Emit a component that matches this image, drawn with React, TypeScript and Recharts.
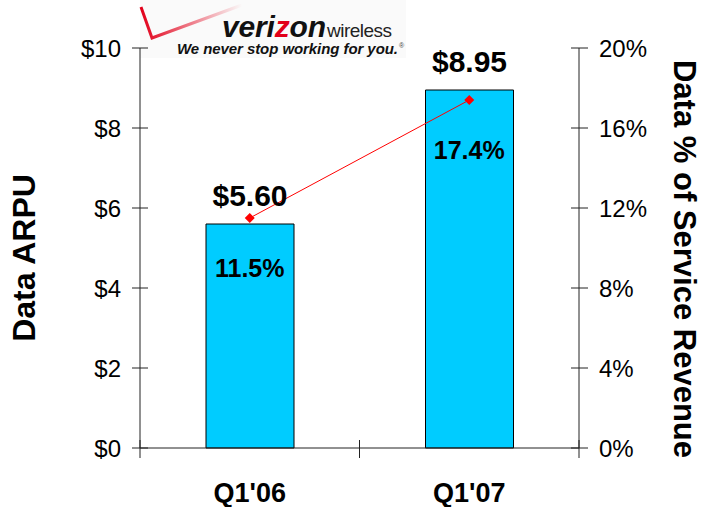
import { ComposedChart, Bar, Line, XAxis, YAxis, LabelList } from 'recharts';

const quarters = ["Q1'06", "Q1'07"];
const arpu = [5.6, 8.95];
const dataShare = [11.5, 17.4];
const arpuTicks = [0, 2, 4, 6, 8, 10];
const shareTicks = [0, 4, 8, 12, 16, 20];

const data = quarters.map((quarter, i) => ({ quarter, arpu: arpu[i], share: dataShare[i] }));

const FONT = '"Liberation Sans", Arial, Helvetica, sans-serif';
const AXIS = '#222';

const LeftTick = ({ x, y, payload }: any) => (
    <g>
        <line x1={x - 8} x2={x + 8} y1={y} y2={y} stroke={AXIS} />
        <text x={x - 19} y={y} dy="0.36em" textAnchor="end" fontSize={24} fontFamily={FONT} fill="#000">
            ${payload.value}
        </text>
    </g>
);

const RightTick = ({ x, y, payload }: any) => (
    <g>
        <line x1={x - 8} x2={x + 9} y1={y} y2={y} stroke={AXIS} />
        <text x={x + 20} y={y} dy="0.36em" textAnchor="start" fontSize={24} fontFamily={FONT} fill="#000">
            {payload.value}%
        </text>
    </g>
);

// category label plus the boundary tick marks between quarters
const QuarterTick = ({ x, y, payload, index, visibleTicksCount }: any) => {
    const half = payload.offset ?? 110;
    return (
        <g>
            <line x1={x - half} x2={x - half} y1={y - 8} y2={y + 10} stroke={AXIS} />
            {index === visibleTicksCount - 1 && (
                <line x1={x + half} x2={x + half} y1={y - 8} y2={y + 10} stroke={AXIS} />
            )}
            <text x={x} y={y + 54} textAnchor="middle" fontSize={27} fontWeight="bold" fontFamily={FONT} fill="#000">
                {payload.value}
            </text>
        </g>
    );
};

const Diamond = ({ cx, cy }: any) => (
    <path d={`M${cx},${cy - 5}L${cx + 5},${cy}L${cx},${cy + 5}L${cx - 5},${cy}Z`} fill="#ff0000" />
);

const ArpuLabel = ({ x, y, width, value }: any) => (
    <text x={x + width / 2} y={y - 18} textAnchor="middle" fontSize={30} fontWeight="bold" fontFamily={FONT} fill="#000">
        ${Number(value).toFixed(2)}
    </text>
);

const ShareLabel = ({ x, y, value }: any) => (
    <text x={x} y={y + 59} textAnchor="middle" fontSize={25} fontWeight="bold" fontFamily={FONT} fill="#000">
        {Number(value).toFixed(1)}%
    </text>
);

const LeftTitle = ({ viewBox }: any) => {
    const cx = viewBox.x + 24;
    const cy = viewBox.y + viewBox.height / 2 + 10;
    return (
        <text x={cx} y={cy} transform={`rotate(-90, ${cx}, ${cy})`} textAnchor="middle" dominantBaseline="central"
            fontSize={32} fontWeight="bold" fontFamily={FONT} fill="#000">
            Data ARPU
        </text>
    );
};

const RightTitle = ({ viewBox }: any) => {
    const cx = viewBox.x + 105;
    const cy = viewBox.y + viewBox.height / 2 + 11;
    return (
        <text x={cx} y={cy} transform={`rotate(90, ${cx}, ${cy})`} textAnchor="middle" dominantBaseline="central"
            fontSize={31} fontWeight="bold" fontFamily={FONT} fill="#000">
            Data % of Service Revenue
        </text>
    );
};

const Logo = () => (
    <svg width={703} height={64} style={{ position: 'absolute', left: 0, top: 0 }}>
        <defs>
            <linearGradient id="checkFade" x1="0" y1="0" x2="1" y2="0">
                <stop offset="0%" stopColor="#e2001a" stopOpacity={1} />
                <stop offset="100%" stopColor="#e2001a" stopOpacity={0} />
            </linearGradient>
        </defs>
        <rect x={140} y={0} width={266} height={58} fill="#fafafa" />
        <polyline points="141,7 152,38 242,5" fill="none" stroke="url(#checkFade)" strokeWidth={3} />
        <text x={222} y={37} fontSize={30} fontWeight="bold" fontStyle="italic" fontFamily={FONT} fill="#111"
            textLength={104}>
            veri<tspan fill="#e2001a">z</tspan>on
        </text>
        <text x={327} y={37} fontSize={19} fontFamily={FONT} fill="#222" textLength={65}>wireless</text>
        <text x={177} y={54} fontSize={15} fontWeight="bold" fontStyle="italic" fontFamily={FONT} fill="#111"
            textLength={221}>
            We never stop working for you.
        </text>
        <text x={399} y={48} fontSize={7} fontFamily={FONT} fill="#444">®</text>
    </svg>
);

export default function App() {
    return (
        <div style={{ position: 'absolute', left: 0, top: 0, width: 703, height: 507, background: '#fff' }}>
            <Logo />
            <div style={{ position: 'absolute', left: 0, top: 0 }}>
                <ComposedChart width={703} height={507} data={data} margin={{ top: 48, right: 0, bottom: 0, left: 0 }}>
                    <XAxis
                        xAxisId="cat"
                        dataKey="quarter"
                        height={59}
                        stroke={AXIS}
                        tickLine={false}
                        tickSize={0}
                        tickMargin={0}
                        tick={<QuarterTick />}
                        interval={0}
                    />
                    <YAxis
                        yAxisId="left"
                        width={140}
                        domain={[0, 10]}
                        ticks={arpuTicks}
                        stroke={AXIS}
                        tickLine={false}
                        tickSize={0}
                        tickMargin={0}
                        tick={<LeftTick />}
                        label={LeftTitle}
                    />
                    <YAxis
                        yAxisId="right"
                        orientation="right"
                        width={124}
                        domain={[0, 20]}
                        ticks={shareTicks}
                        stroke={AXIS}
                        tickLine={false}
                        tickSize={0}
                        tickMargin={0}
                        tick={<RightTick />}
                        label={RightTitle}
                    />
                    <Bar
                        xAxisId="cat"
                        yAxisId="left"
                        dataKey="arpu"
                        barSize={88}
                        fill="#00ccff"
                        stroke="#000"
                        strokeWidth={1}
                        isAnimationActive={false}
                    >
                        <LabelList dataKey="arpu" content={ArpuLabel} />
                    </Bar>
                    <Line
                        xAxisId="cat"
                        yAxisId="right"
                        dataKey="share"
                        stroke="#ff0000"
                        strokeWidth={1}
                        dot={<Diamond />}
                        activeDot={false}
                        isAnimationActive={false}
                    >
                        <LabelList dataKey="share" content={ShareLabel} />
                    </Line>
                </ComposedChart>
            </div>
        </div>
    );
}
